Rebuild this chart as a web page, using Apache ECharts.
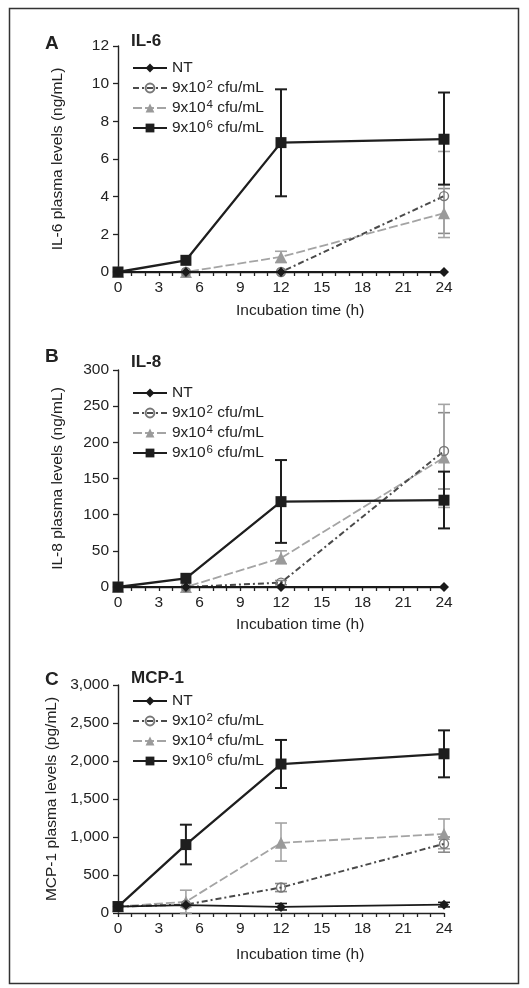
<!DOCTYPE html>
<html>
<head>
<meta charset="utf-8">
<script src="https://cdn.jsdelivr.net/npm/echarts@6/dist/echarts.min.js"></script>
<style>
html,body{margin:0;padding:0;background:#fff;}
#chart{width:529px;height:988px;}
</style>
</head>
<body>
<div id="chart"></div>
<script>
// ---------- data ----------
const hours = [0, 5, 12, 24];
const xTickLabels = [0, 3, 6, 9, 12, 15, 18, 21, 24];
const seriesNames = ['NT', '9x10^2 cfu/mL', '9x10^4 cfu/mL', '9x10^6 cfu/mL'];
const panelTitles = ['IL-6', 'IL-8', 'MCP-1'];
const panelLetters = ['A', 'B', 'C'];
const yTitles = ['IL-6 plasma levels (ng/mL)', 'IL-8 plasma levels (ng/mL)', 'MCP-1 plasma levels (pg/mL)'];
const xTitle = 'Incubation time (h)';

// IL-6 (ng/mL)
const il6_NT = [0, 0, 0, 0];
const il6_e2 = [0, 0, 0, 4.03];
const il6_e4 = [0, 0, 0.8, 3.12];
const il6_e6 = [0, 0.62, 6.87, 7.05];
const il6_NT_lo = [null, null, null, null], il6_NT_hi = [null, null, null, null];
const il6_e2_lo = [null, null, null, 2.05], il6_e2_hi = [null, null, null, 4.43];
const il6_e4_lo = [null, null, 0.5, 1.83], il6_e4_hi = [null, null, 1.1, 6.4];
const il6_e6_lo = [null, null, 4.02, 4.64], il6_e6_hi = [null, null, 9.7, 9.53];

// IL-8 (ng/mL)
const il8_NT = [0, 0, 0, 0];
const il8_e2 = [0, 0, 6, 188];
const il8_e4 = [0, 0, 40, 179];
const il8_e6 = [0, 12, 118, 120];
const il8_NT_lo = [null, null, null, null], il8_NT_hi = [null, null, null, null];
const il8_e2_lo = [null, null, 3, 135.5], il8_e2_hi = [null, null, 9, 241];
const il8_e4_lo = [null, null, 32, 110], il8_e4_hi = [null, null, 50, 252.5];
const il8_e6_lo = [null, null, 61, 81], il8_e6_hi = [null, null, 175.5, 159.5];

// MCP-1 (pg/mL)
const mcp_NT = [85, 104, 80, 110];
const mcp_e2 = [85, 110, 335, 910];
const mcp_e4 = [85, 148, 923, 1040];
const mcp_e6 = [85, 900, 1960, 2095];
const mcp_NT_lo = [null, null, 40, 80], mcp_NT_hi = [null, null, 125, 140];
const mcp_e2_lo = [null, null, 282, 800], mcp_e2_hi = [null, null, 388, 1000];
const mcp_e4_lo = [null, 0, 683, 845], mcp_e4_hi = [null, 300, 1184, 1237];
const mcp_e6_lo = [null, 640, 1645, 1785], mcp_e6_hi = [null, 1162, 2277, 2403];

const yMax = [12, 300, 3000];
const yInterval = [2, 50, 500];

// ---------- build ----------
const FONT = 'Liberation Sans, Arial, Helvetica, sans-serif';
const grids = [
  {left: 118, top: 46, width: 326, height: 226},
  {left: 118, top: 370, width: 326, height: 217},
  {left: 118, top: 685, width: 326, height: 228}
];
const panelValues = [
  [il6_NT, il6_e2, il6_e4, il6_e6],
  [il8_NT, il8_e2, il8_e4, il8_e6],
  [mcp_NT, mcp_e2, mcp_e4, mcp_e6]
];
const panelErr = [
  [[il6_NT_lo, il6_NT_hi], [il6_e2_lo, il6_e2_hi], [il6_e4_lo, il6_e4_hi], [il6_e6_lo, il6_e6_hi]],
  [[il8_NT_lo, il8_NT_hi], [il8_e2_lo, il8_e2_hi], [il8_e4_lo, il8_e4_hi], [il8_e6_lo, il8_e6_hi]],
  [[mcp_NT_lo, mcp_NT_hi], [mcp_e2_lo, mcp_e2_hi], [mcp_e4_lo, mcp_e4_hi], [mcp_e6_lo, mcp_e6_hi]]
];

const styles = [
  {line: '#1a1a1a', width: 1.8, type: 'solid', symbol: 'diamond', size: 10,
   item: {color: '#1a1a1a'}, err: '#1a1a1a', z: 6},
  {line: '#4a4a4a', width: 2, type: [6, 3, 2, 3], symbol: 'circle', size: 9,
   item: {color: 'rgba(255,255,255,0)', borderColor: '#777777', borderWidth: 1.4}, err: '#8a8a8a', z: 4},
  {line: '#a4a4a4', width: 1.8, type: [9, 3], symbol: 'triangle', size: 12,
   item: {color: '#9a9a9a'}, err: '#a4a4a4', z: 3},
  {line: '#1e1e1e', width: 2.3, type: 'solid', symbol: 'rect', size: 11,
   item: {color: '#1e1e1e'}, err: '#1e1e1e', z: 5}
];

function errRender(color, lw) {
  return function (params, api) {
    const x = api.value(0), lo = api.value(1), hi = api.value(2);
    const p1 = api.coord([x, hi]);
    const p2 = api.coord([x, lo]);
    const w = 6;
    const st = {stroke: color, lineWidth: lw};
    return {
      type: 'group',
      children: [
        {type: 'line', shape: {x1: p1[0], y1: p1[1], x2: p2[0], y2: p2[1]}, style: st},
        {type: 'line', shape: {x1: p1[0] - w, y1: p1[1], x2: p1[0] + w, y2: p1[1]}, style: st},
        {type: 'line', shape: {x1: p2[0] - w, y1: p2[1], x2: p2[0] + w, y2: p2[1]}, style: st}
      ]
    };
  };
}

const xAxes = [], yAxes = [], series = [], legends = [], graphics = [];
const legendTops = [59, 384, 692];
const xTitleY = [303, 617, 947];
const letterY = [34, 347, 670];
const titleY = [33, 354, 670];

grids.forEach((g, p) => {
  xAxes.push({
    gridIndex: p, type: 'value', min: 0, max: 24, interval: 1,
    axisLine: {show: true, lineStyle: {color: '#222', width: 1.4}},
    axisTick: {show: true, length: 4, lineStyle: {color: '#222', width: 1.3}},
    splitLine: {show: false},
    axisLabel: {
      margin: 8, color: '#222', fontSize: 15.5, fontFamily: FONT,
      formatter: v => (xTickLabels.indexOf(v) >= 0 ? String(v) : '')
    }
  });
  yAxes.push({
    gridIndex: p, type: 'value', min: 0, max: yMax[p], interval: yInterval[p],
    axisLine: {show: true, lineStyle: {color: '#222', width: 1.4}},
    axisTick: {show: true, length: 5, lineStyle: {color: '#222', width: 1.3}},
    splitLine: {show: false},
    axisLabel: {
      margin: 9, color: '#222', fontSize: 15.5, fontFamily: FONT,
      formatter: v => v.toLocaleString('en-US')
    },
    name: yTitles[p], nameLocation: 'middle', nameGap: 52,
    nameTextStyle: {color: '#222', fontSize: 15.5, fontFamily: FONT}
  });

  seriesNames.forEach((nm, s) => {
    const st = styles[s];
    const lo = panelErr[p][s][0], hi = panelErr[p][s][1];
    const errData = [];
    hours.forEach((h, i) => { if (lo[i] !== null && hi[i] !== null) errData.push([h, lo[i], hi[i]]); });
    if (errData.length) {
      series.push({
        type: 'custom', xAxisIndex: p, yAxisIndex: p, z: 1,
        renderItem: errRender(st.err, s === 3 ? 2 : 1.6),
        encode: {x: 0, y: [1, 2]},
        data: errData, silent: true
      });
    }
    series.push({
      name: nm, type: 'line', xAxisIndex: p, yAxisIndex: p, z: st.z,
      data: hours.map((h, i) => [h, panelValues[p][s][i]]),
      symbol: st.symbol, symbolSize: st.size, showSymbol: true,
      lineStyle: {color: st.line, width: st.width, type: st.type},
      itemStyle: st.item,
      animation: false
    });
  });

  legends.push({
    data: seriesNames, orient: 'vertical', left: 132, top: legendTops[p],
    itemWidth: 34, itemHeight: 11, itemGap: 2, selectedMode: false,
    padding: 0,
    textStyle: {
      fontSize: 15.5, fontFamily: FONT, color: '#222', lineHeight: 18,
      rich: {sup: {fontSize: 11.5, fontFamily: FONT, color: '#222', verticalAlign: 'top', padding: [0, 0, 0, 1]}}
    },
    formatter: n => n.replace(/\^(\d)/, '{sup|$1}')
  });

  graphics.push({
    type: 'text', left: 45, top: letterY[p],
    style: {text: panelLetters[p], fontSize: 19, fontWeight: 'bold', fontFamily: FONT, fill: '#222'}
  });
  graphics.push({
    type: 'text', left: 131, top: titleY[p],
    style: {text: panelTitles[p], fontSize: 17, fontWeight: 'bold', fontFamily: FONT, fill: '#222'}
  });
  graphics.push({
    type: 'text', left: 236, top: xTitleY[p],
    style: {text: xTitle, fontSize: 15.5, fontFamily: FONT, fill: '#222'}
  });
});

graphics.push({
  type: 'rect', left: 7, top: 6,
  shape: {width: 509, height: 975},
  style: {fill: 'none', stroke: '#333', lineWidth: 1.5}
});

const chart = echarts.init(document.getElementById('chart'), null, {renderer: 'canvas'});
chart.setOption({
  animation: false,
  backgroundColor: '#fff',
  grid: grids,
  xAxis: xAxes,
  yAxis: yAxes,
  legend: legends,
  series: series,
  graphic: graphics
});
</script>
</body>
</html>
